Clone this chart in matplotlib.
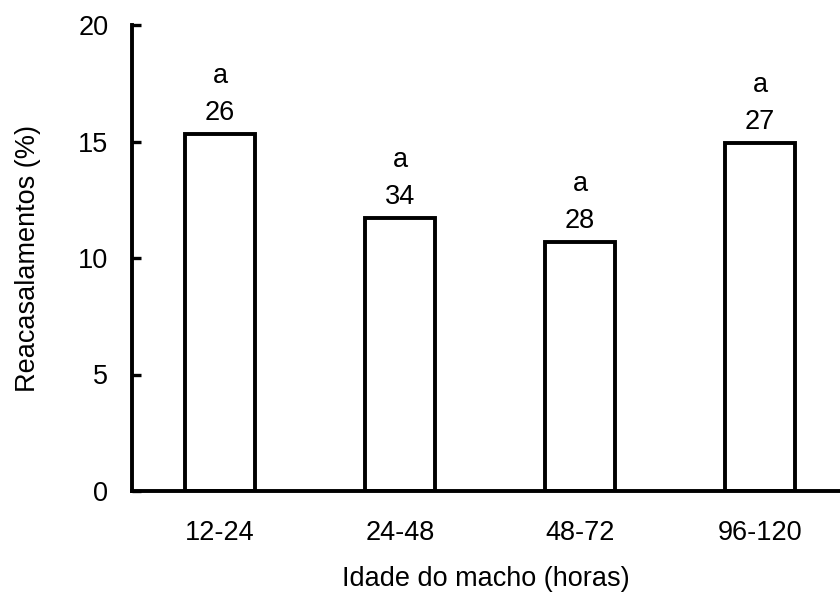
import matplotlib
matplotlib.use("Agg")
import matplotlib.pyplot as plt

categories = ["12-24", "24-48", "48-72", "96-120"]
values = [15.32, 11.72, 10.69, 14.92]
counts = ["26", "34", "28", "27"]
letters = ["a", "a", "a", "a"]
y_ticks = [0, 5, 10, 15, 20]

plt.rcParams['font.family'] = ['Liberation Sans', 'DejaVu Sans']
FS = 19.5

fig = plt.figure(figsize=(8.4, 5.94), dpi=100)
ax = fig.add_axes([132/840, (594-491)/594, 1 - 132/840, (491-25)/594])

x = list(range(len(categories)))
ax.bar(x, values, width=0.39, color='white', edgecolor='black', linewidth=2.8, zorder=3)

for xi, v, c, l in zip(x, values, counts, letters):
    ax.annotate(c, (xi, v), xytext=(0, 10), textcoords='offset points',
                ha='center', va='baseline', fontsize=FS)
    ax.annotate(l, (xi, v), xytext=(0, 37), textcoords='offset points',
                ha='center', va='baseline', fontsize=FS)

ax.set_xlim(-0.489, 3.444)
ax.set_ylim(0, 20)
ax.set_xticks(x)
ax.set_xticklabels(categories, fontsize=FS)
ax.set_yticks(y_ticks)
ax.set_yticklabels([str(t) for t in y_ticks], fontsize=FS)

ax.spines['top'].set_visible(False)
ax.spines['right'].set_visible(False)
for s in ['left', 'bottom']:
    ax.spines[s].set_linewidth(2.8)
    ax.spines[s].set_zorder(4)

ax.tick_params(axis='y', direction='in', length=6.5, width=2.4, pad=17)
ax.tick_params(axis='x', length=0, pad=21)

ax.set_xlabel("Idade do macho (horas)", fontsize=FS, labelpad=14.5)
ax.set_ylabel("Reacasalamentos (%)", fontsize=FS, labelpad=27)

fig.savefig("out.png", dpi=100)
